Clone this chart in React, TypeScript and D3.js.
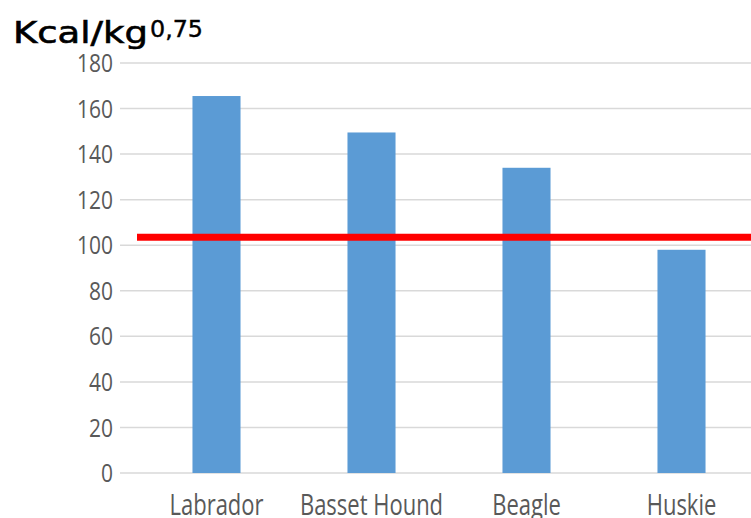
import React from "react";
import * as d3 from "d3";

const categories = ["Labrador", "Basset Hound", "Beagle", "Huskie"];
const values = [165.5, 149.5, 134, 98];
const referenceValue = 103.5;
const yTicks = [0, 20, 40, 60, 80, 100, 120, 140, 160, 180];

const W = 751;
const H = 518;

export default function App() {
  const y = d3.scaleLinear().domain([0, 180]).range([473, 63]);
  const x = d3
    .scaleBand<string>()
    .domain(categories)
    .range([139, 759])
    .paddingInner(0.69)
    .paddingOuter(0.345);

  const labelFont = "'Open Sans', 'Liberation Sans', sans-serif";

  return (
    <svg
      width={W}
      height={H}
      style={{ position: "absolute", left: 0, top: 0, background: "#fff" }}
    >
      {yTicks.map((t) => (
        <g key={t}>
          <line x1={120} x2={W} y1={y(t)} y2={y(t)} stroke="#d9d9d9" strokeWidth={1.5} />
          <g transform={`translate(113,${y(t)}) scale(1,1.2)`}>
            <text
              x={0}
              y={0}
              dy="0.36em"
              textAnchor="end"
              fontFamily={labelFont}
              fontSize={21}
              fill="#595959"
            >
              {t}
            </text>
          </g>
        </g>
      ))}
      {categories.map((c, i) => (
        <rect
          key={c}
          x={x(c)}
          y={y(values[i])}
          width={x.bandwidth()}
          height={y(0) - y(values[i])}
          fill="#5b9bd5"
        />
      ))}
      {categories.map((c) => (
        <g
          key={c}
          transform={`translate(${(x(c) ?? 0) + x.bandwidth() / 2},515) scale(1,1.3)`}
        >
          <text
            x={0}
            y={0}
            textAnchor="middle"
            fontFamily={labelFont}
            fontSize={22}
            fill="#595959"
          >
            {c}
          </text>
        </g>
      ))}
      <line
        x1={137}
        x2={W}
        y1={y(referenceValue)}
        y2={y(referenceValue)}
        stroke="#ff0000"
        strokeWidth={7}
      />
      <text
        x={13}
        y={43}
        fontFamily="'DejaVu Sans', sans-serif"
        fontSize={30}
        fill="#000"
        stroke="#000"
        strokeWidth={0.6}
        textLength={135}
        lengthAdjust="spacingAndGlyphs"
      >
        Kcal/kg
      </text>
      <text
        x={150}
        y={37}
        fontFamily="'DejaVu Sans', sans-serif"
        fontSize={23}
        fill="#000"
        stroke="#000"
        strokeWidth={0.4}
        textLength={53}
        lengthAdjust="spacingAndGlyphs"
      >
        0,75
      </text>
    </svg>
  );
}
